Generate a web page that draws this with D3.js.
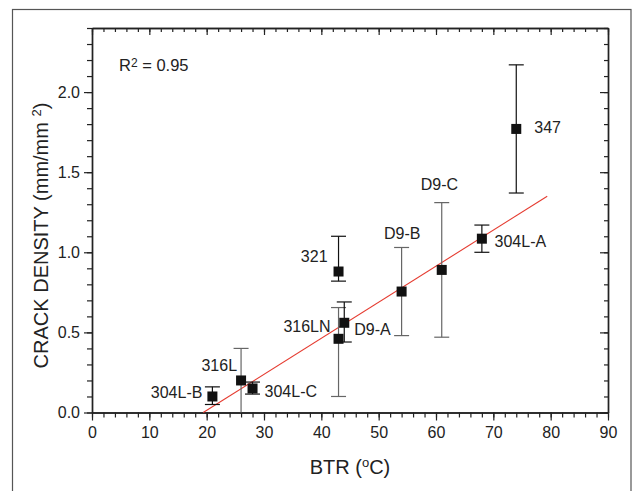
<!DOCTYPE html>
<html>
<head>
<meta charset="utf-8">
<script src="https://cdn.jsdelivr.net/npm/d3@7"></script>
<style>
  html, body { margin: 0; padding: 0; background: #fff; }
  svg { display: block; font-family: "Liberation Sans", Arial, sans-serif; }
</style>
</head>
<body>
<svg id="chart" width="632" height="491"></svg>
<script>
// ---- data ----
const names    = ["304L-B", "316L", "304L-C", "321", "316LN", "D9-A", "D9-B", "D9-C", "304L-A", "347"];
const btr      = [21, 26, 28, 43, 43, 44, 54, 61, 68, 74];
const density  = [0.10, 0.20, 0.15, 0.88, 0.46, 0.56, 0.755, 0.89, 1.085, 1.77];
const errLow   = [0.05, 0.00, 0.115, 0.82, 0.10, 0.44, 0.48, 0.47, 1.00, 1.37];
const errHigh  = [0.16, 0.40, 0.19, 1.10, 0.655, 0.69, 1.03, 1.31, 1.17, 2.17];
const fitX     = [19.4, 79.4];
const fitY     = [0, 1.35];
const xTicks   = [0, 10, 20, 30, 40, 50, 60, 70, 80, 90];
const yTicks   = [0.0, 0.5, 1.0, 1.5, 2.0];
const rSquared = "0.95";

// ---- layout / style (not data) ----
const labelLayout = [
  {anchor: "end",    dx: -10,  dy: 1.5},
  {anchor: "end",    dx: -4,   dy: -9.5},
  {anchor: "start",  dx: 12,   dy: 9},
  {anchor: "end",    dx: -11,  dy: -10},
  {anchor: "end",    dx: -8,   dy: -7},
  {anchor: "start",  dx: 10,   dy: 12},
  {anchor: "middle", dx: 0.6,  dy: -52.5},
  {anchor: "middle", dx: -2.3, dy: -80},
  {anchor: "start",  dx: 12.7, dy: 8.6},
  {anchor: "start",  dx: 18,   dy: 4.4}
];
const barColor = ["#111", "#666", "#111", "#111", "#666", "#111", "#666", "#666", "#111", "#111"];

const svg = d3.select("#chart");
const m = {left: 92, right: 608, top: 28, bottom: 412.5};

const x = d3.scaleLinear().domain([0, 90]).range([m.left, m.right]);
const y = d3.scaleLinear().domain([0, 2.4]).range([m.bottom, m.top]);

// outer frame
svg.append("rect")
  .attr("x", 12.5).attr("y", 9.5).attr("width", 618.5).attr("height", 520)
  .attr("fill", "none").attr("stroke", "#555").attr("stroke-width", 1.2);

const minorX = d3.range(0, 91, 2);
const minorY = d3.range(0, 25).map(i => +(i * 0.1).toFixed(1));

function styleAxis(g) {
  g.selectAll("path.domain").attr("stroke", "#222").attr("stroke-width", 1.4);
  g.selectAll(".tick line").attr("stroke", "#222").attr("stroke-width", 1.2);
  g.selectAll(".tick text").attr("fill", "#222").style("font-size", "16px")
    .style("font-family", '"Liberation Sans", Arial, sans-serif');
}

// bottom axis
svg.append("g").attr("transform", `translate(0,${m.bottom})`)
  .call(d3.axisBottom(x).tickValues(minorX).tickSize(5).tickSizeOuter(0).tickFormat(""))
  .call(styleAxis);
svg.append("g").attr("transform", `translate(0,${m.bottom})`)
  .call(d3.axisBottom(x).tickValues(xTicks).tickSize(8).tickSizeOuter(0).tickPadding(6.5).tickFormat(d3.format("d")))
  .call(styleAxis);

// top axis (inward ticks)
svg.append("g").attr("transform", `translate(0,${m.top})`)
  .call(d3.axisTop(x).tickValues(minorX).tickSize(-4).tickSizeOuter(0).tickFormat(""))
  .call(styleAxis);
svg.append("g").attr("transform", `translate(0,${m.top})`)
  .call(d3.axisTop(x).tickValues(xTicks).tickSize(-7).tickSizeOuter(0).tickFormat(""))
  .call(styleAxis);

// left axis
svg.append("g").attr("transform", `translate(${m.left},0)`)
  .call(d3.axisLeft(y).tickValues(minorY).tickSize(5).tickSizeOuter(0).tickFormat(""))
  .call(styleAxis);
svg.append("g").attr("transform", `translate(${m.left},0)`)
  .call(d3.axisLeft(y).tickValues(yTicks).tickSize(8).tickSizeOuter(0).tickPadding(4).tickFormat(d3.format(".1f")))
  .call(styleAxis);

// right axis (inward ticks)
svg.append("g").attr("transform", `translate(${m.right},0)`)
  .call(d3.axisRight(y).tickValues(minorY).tickSize(-4).tickSizeOuter(0).tickFormat(""))
  .call(styleAxis);
svg.append("g").attr("transform", `translate(${m.right},0)`)
  .call(d3.axisRight(y).tickValues(yTicks).tickSize(-8).tickSizeOuter(0).tickFormat(""))
  .call(styleAxis);

// fit line
svg.append("line")
  .attr("x1", x(fitX[0])).attr("y1", y(fitY[0]))
  .attr("x2", x(fitX[1])).attr("y2", y(fitY[1]))
  .attr("stroke", "#e53a2f").attr("stroke-width", 1.1);

const pts = names.map((n, i) => ({name: n, x: btr[i], y: density[i], lo: errLow[i], hi: errHigh[i], lay: labelLayout[i], col: barColor[i]}));

// error bars
const eb = svg.append("g").selectAll("g").data(pts).join("g")
  .attr("stroke", d => d.col).attr("stroke-width", 1.2).attr("fill", "none");
eb.append("line")
  .attr("x1", d => x(d.x)).attr("x2", d => x(d.x))
  .attr("y1", d => y(d.lo)).attr("y2", d => y(d.hi));
eb.append("line")
  .attr("x1", d => x(d.x) - 7.5).attr("x2", d => x(d.x) + 7.5)
  .attr("y1", d => y(d.hi)).attr("y2", d => y(d.hi));
eb.append("line")
  .attr("x1", d => x(d.x) - 7.5).attr("x2", d => x(d.x) + 7.5)
  .attr("y1", d => y(d.lo)).attr("y2", d => y(d.lo))
  .attr("display", d => d.lo <= 0 ? "none" : null);

// markers
svg.append("g").selectAll("rect").data(pts).join("rect")
  .attr("x", d => x(d.x) - 5).attr("y", d => y(d.y) - 5)
  .attr("width", 10).attr("height", 10)
  .attr("fill", "#111");

// point labels
svg.append("g").selectAll("text").data(pts).join("text")
  .attr("x", d => x(d.x) + d.lay.dx)
  .attr("y", d => y(d.y) + d.lay.dy)
  .attr("text-anchor", d => d.lay.anchor)
  .attr("fill", "#222")
  .style("font-size", "16px")
  .text(d => d.name);

// R squared
const rt = svg.append("text").attr("x", 119).attr("y", 71).attr("fill", "#222").style("font-size", "16.5px");
rt.append("tspan").text("R");
rt.append("tspan").attr("dy", -4).style("font-size", "12px").text("2");
rt.append("tspan").attr("dy", 4).text(" = " + rSquared);

// x-axis label
const xl = svg.append("text").attr("x", (m.left + m.right) / 2).attr("y", 474)
  .attr("text-anchor", "middle").attr("fill", "#222").style("font-size", "20px");
xl.append("tspan").text("BTR (");
xl.append("tspan").attr("dy", -7).style("font-size", "13px").text("o");
xl.append("tspan").attr("dy", 7).text("C)");

// y-axis label
const yl = svg.append("text")
  .attr("transform", `translate(48,235.5) rotate(-90)`)
  .attr("text-anchor", "middle").attr("fill", "#222").style("font-size", "20px");
yl.append("tspan").text("CRACK DENSITY (mm/mm ");
yl.append("tspan").attr("dy", -7).style("font-size", "13px").text("2");
yl.append("tspan").attr("dy", 7).text(")");
</script>
</body>
</html>
